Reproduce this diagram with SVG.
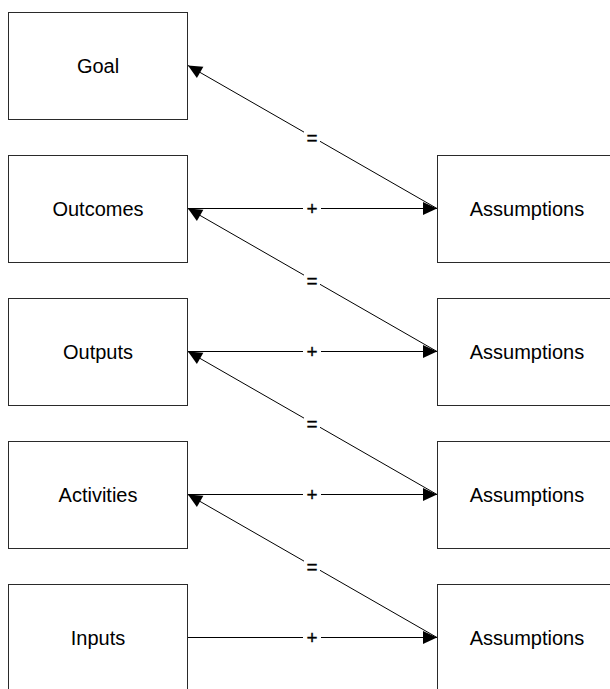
<svg xmlns="http://www.w3.org/2000/svg" width="610" height="689" viewBox="0 0 610 689">
<style>
.box{fill:#fff;stroke:#2a2a2a;stroke-width:1}
.t{font-family:"Liberation Sans",Arial,sans-serif;font-size:20px;fill:#000;text-anchor:middle;dominant-baseline:central}
.c{stroke:#000;stroke-width:1;fill:none;marker-end:url(#ah)}
.lb{fill:#fff}
.l{font-family:"Liberation Sans",Arial,sans-serif;font-size:19px;fill:#000;stroke:#000;stroke-width:0.3;text-anchor:middle;dominant-baseline:central}
</style>
<defs>
<marker id="ah" markerUnits="userSpaceOnUse" markerWidth="14" markerHeight="13" refX="14" refY="6.5" orient="auto" overflow="visible">
<path d="M0,0 L14,6.5 L0,13 z" fill="#000"/>
</marker>
</defs>
<rect width="610" height="689" fill="#fff"/>
<g id="goal"><rect class="box" x="8.5" y="12.5" width="179" height="107"/><text class="t" x="98" y="66">Goal</text></g>
<g id="outcomes"><rect class="box" x="8.5" y="155.5" width="179" height="107"/><text class="t" x="98" y="209">Outcomes</text></g>
<g id="outputs"><rect class="box" x="8.5" y="298.5" width="179" height="107"/><text class="t" x="98" y="352">Outputs</text></g>
<g id="activities"><rect class="box" x="8.5" y="441.5" width="179" height="107"/><text class="t" x="98" y="495">Activities</text></g>
<g id="inputs"><rect class="box" x="8.5" y="584.5" width="179" height="107"/><text class="t" x="98" y="638">Inputs</text></g>
<g id="assumptions1"><rect class="box" x="437.5" y="155.5" width="180" height="107"/><text class="t" x="527" y="209">Assumptions</text></g>
<g id="assumptions2"><rect class="box" x="437.5" y="298.5" width="180" height="107"/><text class="t" x="527" y="352">Assumptions</text></g>
<g id="assumptions3"><rect class="box" x="437.5" y="441.5" width="180" height="107"/><text class="t" x="527" y="495">Assumptions</text></g>
<g id="assumptions4"><rect class="box" x="437.5" y="584.5" width="180" height="107"/><text class="t" x="527" y="638">Assumptions</text></g>
<g id="connectors">
<line class="c" x1="437" y1="208.5" x2="188" y2="65.5"/>
<rect class="lb" x="304" y="131" width="16" height="12"/><text class="l" x="312" y="137">=</text>
<line class="c" x1="188" y1="208.5" x2="437" y2="208.5"/>
<rect class="lb" x="303" y="201" width="18" height="15"/><text class="l" x="312" y="208.5">+</text>
<line class="c" x1="437" y1="351.5" x2="188" y2="208.5"/>
<rect class="lb" x="304" y="274" width="16" height="12"/><text class="l" x="312" y="280">=</text>
<line class="c" x1="188" y1="351.5" x2="437" y2="351.5"/>
<rect class="lb" x="303" y="344" width="18" height="15"/><text class="l" x="312" y="351.5">+</text>
<line class="c" x1="437" y1="494.5" x2="188" y2="351.5"/>
<rect class="lb" x="304" y="417" width="16" height="12"/><text class="l" x="312" y="423">=</text>
<line class="c" x1="188" y1="494.5" x2="437" y2="494.5"/>
<rect class="lb" x="303" y="487" width="18" height="15"/><text class="l" x="312" y="494.5">+</text>
<line class="c" x1="437" y1="637.5" x2="188" y2="494.5"/>
<rect class="lb" x="304" y="560" width="16" height="12"/><text class="l" x="312" y="566">=</text>
<line class="c" x1="188" y1="637.5" x2="437" y2="637.5"/>
<rect class="lb" x="303" y="630" width="18" height="15"/><text class="l" x="312" y="637.5">+</text>
</g>
</svg>
